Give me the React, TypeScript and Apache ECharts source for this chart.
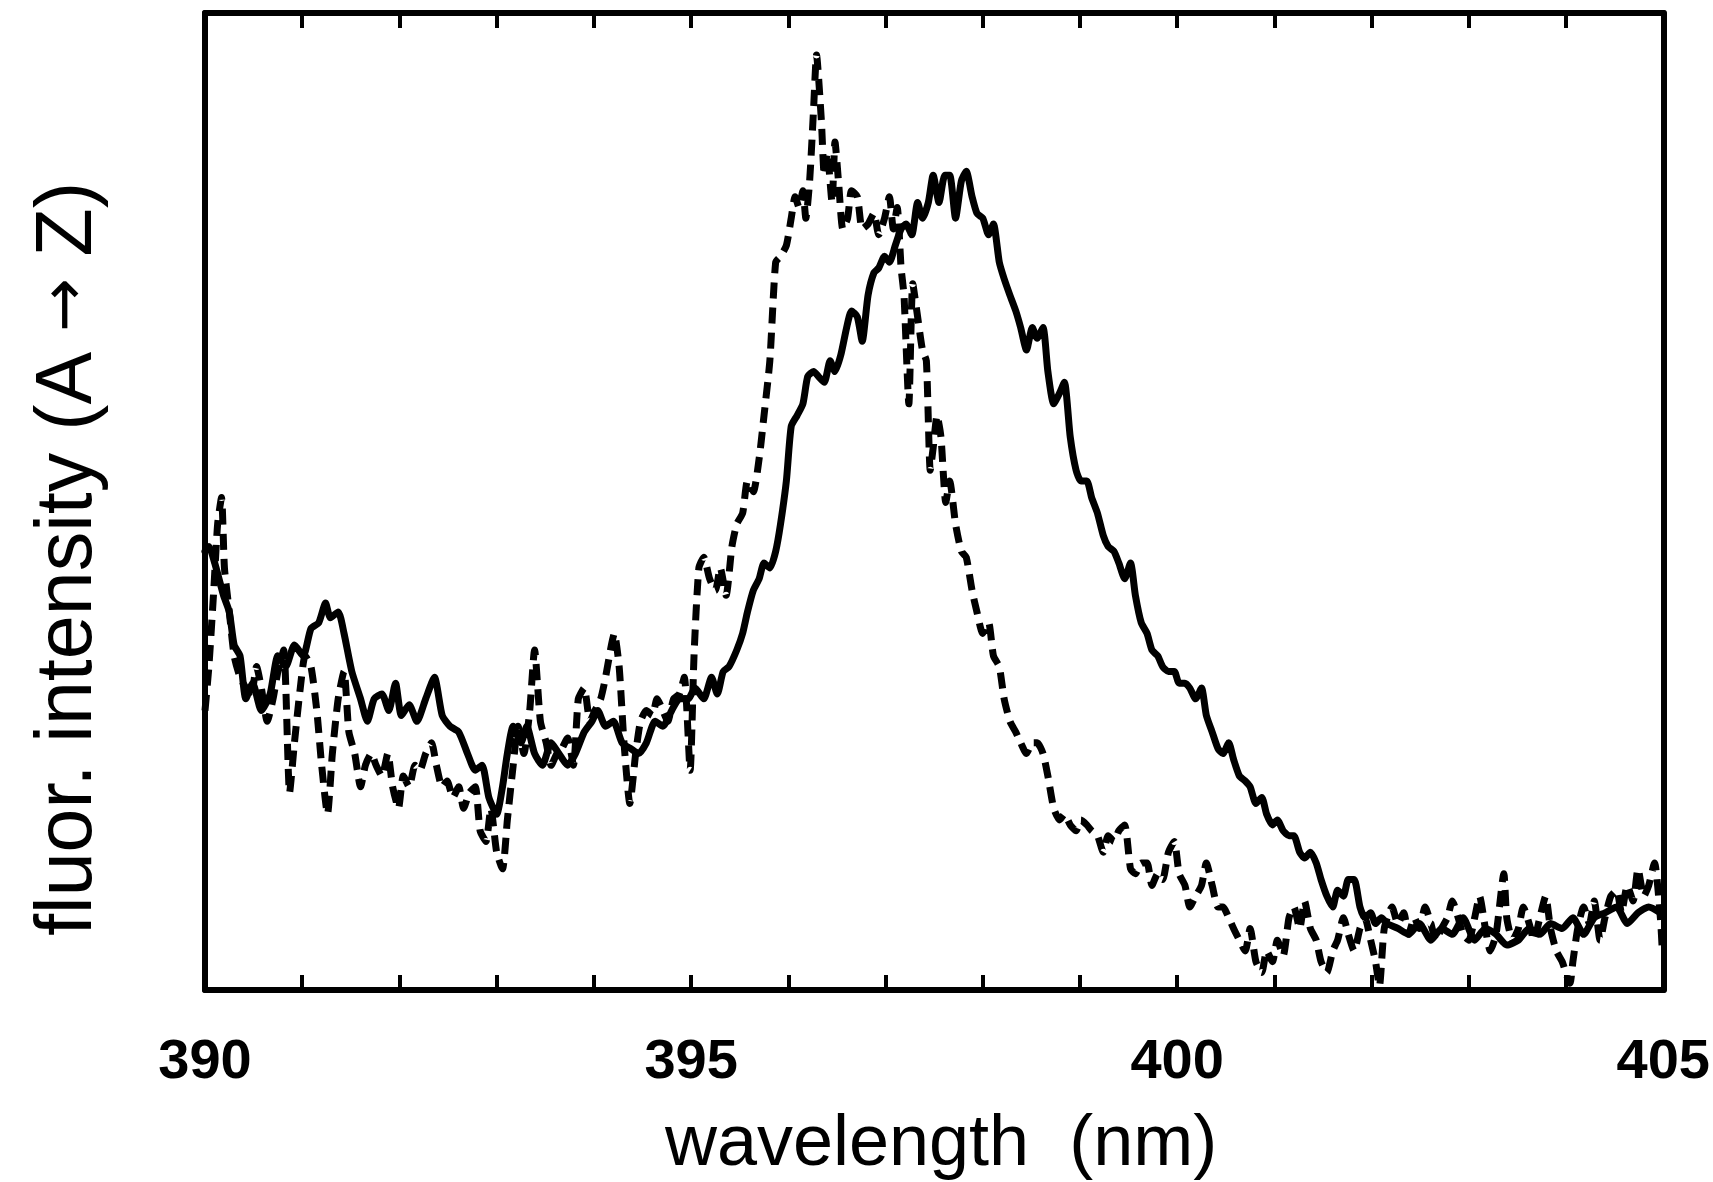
import React, { useEffect, useRef } from "react";
import * as echarts from "echarts";

// x tick labels (nm)
const xTickLabels = [390, 395, 400, 405];

// solid curve
const solidWavelength = [
  390.00, 390.04, 390.10, 390.19, 390.25, 390.30, 390.36, 390.42, 390.49, 390.58,
  390.67, 390.75, 390.83, 390.92, 391.01, 391.09, 391.17, 391.24, 391.29, 391.37,
  391.43, 391.51, 391.60, 391.67, 391.74, 391.82, 391.89, 391.96, 392.02, 392.10,
  392.18, 392.27, 392.36, 392.44, 392.52, 392.61, 392.70, 392.78, 392.85, 392.92,
  393.00, 393.06, 393.11, 393.17, 393.25, 393.31, 393.39, 393.47, 393.56, 393.64,
  393.73, 393.81, 393.90, 393.98, 394.04, 394.12, 394.20, 394.29, 394.38, 394.46,
  394.54, 394.63, 394.71, 394.80, 394.88, 394.97, 395.04, 395.13, 395.21, 395.27,
  395.33, 395.39, 395.47, 395.53, 395.58, 395.64, 395.70, 395.75, 395.81, 395.87,
  395.92, 395.98, 396.03, 396.09, 396.15, 396.20, 396.26, 396.31, 396.37, 396.43,
  396.48, 396.54, 396.60, 396.65, 396.71, 396.76, 396.82, 396.88, 396.93, 396.99,
  397.04, 397.10, 397.16, 397.21, 397.27, 397.33, 397.38, 397.44, 397.49, 397.55,
  397.61, 397.66, 397.72, 397.78, 397.83, 397.89, 397.94, 398.00, 398.06, 398.11,
  398.17, 398.22, 398.28, 398.34, 398.39, 398.45, 398.51, 398.56, 398.62, 398.67,
  398.73, 398.79, 398.84, 398.90, 398.96, 399.01, 399.07, 399.12, 399.18, 399.24,
  399.29, 399.35, 399.40, 399.46, 399.52, 399.57, 399.63, 399.69, 399.74, 399.80,
  399.85, 399.91, 399.97, 400.02, 400.08, 400.13, 400.19, 400.25, 400.30, 400.36,
  400.42, 400.47, 400.53, 400.58, 400.64, 400.70, 400.75, 400.81, 400.87, 400.92,
  400.98, 401.03, 401.09, 401.15, 401.20, 401.26, 401.31, 401.37, 401.43, 401.48,
  401.54, 401.60, 401.65, 401.71, 401.76, 401.82, 401.88, 401.93, 401.99, 402.04,
  402.10, 402.16, 402.27, 402.38, 402.49, 402.61, 402.72, 402.83, 402.94, 403.06,
  403.17, 403.28, 403.39, 403.51, 403.62, 403.73, 403.84, 403.96, 404.07, 404.18,
  404.29, 404.40, 404.52, 404.63, 404.74, 404.85, 404.97,
];
const solidIntensity = [
  44.9, 45.4, 43.7, 40.4, 38.7, 35.3, 34.2, 29.8, 31.4, 28.6,
  30.3, 34.2, 33.1, 35.3, 34.2, 37.0, 37.6, 39.6, 38.1, 38.7,
  36.5, 32.6, 29.8, 27.5, 29.8, 30.3, 28.6, 31.4, 28.1, 29.2,
  27.5, 29.8, 32.0, 28.1, 27.0, 26.4, 24.2, 22.5, 23.0, 19.7,
  18.0, 20.8, 24.2, 27.0, 25.3, 27.0, 24.2, 23.0, 25.3, 24.2,
  23.0, 24.2, 26.4, 27.5, 28.6, 27.0, 27.5, 25.3, 24.7, 24.2,
  25.3, 27.5, 27.0, 28.6, 29.8, 29.8, 30.9, 29.8, 32.0, 30.3,
  32.6, 33.1, 34.8, 36.5, 38.7, 40.9, 42.1, 43.7, 43.2, 44.9,
  47.7, 52.1, 57.7, 58.8, 60.0, 62.8, 63.3, 62.8, 62.2, 64.4,
  63.3, 65.0, 67.8, 69.5, 68.9, 66.4, 71.1, 73.4, 73.9, 75.1,
  74.5, 76.2, 77.9, 78.4, 77.3, 80.6, 79.0, 80.6, 83.4, 80.6,
  83.4, 83.4, 79.0, 82.8, 83.8, 81.2, 79.5, 79.0, 77.3, 78.4,
  74.5, 72.8, 71.1, 69.5, 67.8, 65.5, 67.8, 66.7, 67.8, 63.3,
  60.0, 61.1, 62.2, 56.6, 53.2, 52.1, 52.1, 50.4, 48.8, 46.5,
  45.4, 44.9, 43.7, 42.1, 43.7, 40.4, 37.6, 36.5, 34.8, 34.2,
  33.1, 32.6, 32.6, 31.4, 31.4, 30.9, 29.8, 30.9, 28.1, 26.4,
  24.7, 24.2, 25.3, 23.6, 21.9, 21.4, 20.8, 19.1, 19.7, 18.0,
  16.9, 17.4, 16.3, 15.8, 15.8, 14.1, 13.5, 14.1, 13.0, 11.3,
  9.6, 8.5, 10.2, 9.6, 11.3, 11.3, 8.5, 7.4, 7.9, 6.8,
  7.4, 6.8, 6.3, 5.7, 6.8, 5.1, 6.3, 5.7, 7.4, 5.1,
  6.3, 5.7, 4.6, 5.1, 6.3, 5.7, 6.8, 6.3, 7.4, 5.7,
  7.4, 7.9, 8.5, 6.8, 7.9, 8.5, 7.9,
];

// dashed curve
const dashedWavelength = [
  390.00, 390.04, 390.09, 390.13, 390.17, 390.20, 390.25, 390.30, 390.36, 390.42,
  390.47, 390.53, 390.58, 390.64, 390.70, 390.75, 390.81, 390.87, 390.92, 390.98,
  391.03, 391.09, 391.15, 391.20, 391.26, 391.31, 391.37, 391.43, 391.48, 391.54,
  391.60, 391.65, 391.71, 391.76, 391.82, 391.88, 391.93, 391.99, 392.04, 392.10,
  392.16, 392.21, 392.27, 392.33, 392.38, 392.44, 392.49, 392.55, 392.61, 392.66,
  392.72, 392.78, 392.83, 392.89, 392.94, 393.00, 393.06, 393.11, 393.17, 393.22,
  393.28, 393.34, 393.39, 393.45, 393.51, 393.56, 393.62, 393.67, 393.73, 393.79,
  393.84, 393.90, 393.96, 394.01, 394.07, 394.12, 394.18, 394.21, 394.26, 394.31,
  394.37, 394.43, 394.48, 394.54, 394.60, 394.65, 394.71, 394.76, 394.82, 394.88,
  394.93, 394.99, 395.03, 395.08, 395.13, 395.19, 395.25, 395.30, 395.36, 395.42,
  395.47, 395.53, 395.58, 395.64, 395.70, 395.75, 395.81, 395.87, 395.92, 395.98,
  396.03, 396.07, 396.11, 396.15, 396.18, 396.22, 396.26, 396.29, 396.34, 396.37,
  396.40, 396.45, 396.48, 396.52, 396.56, 396.61, 396.65, 396.71, 396.76, 396.82,
  396.88, 396.93, 396.99, 397.04, 397.08, 397.12, 397.16, 397.19, 397.24, 397.28,
  397.33, 397.38, 397.42, 397.46, 397.49, 397.53, 397.57, 397.62, 397.66, 397.72,
  397.78, 397.83, 397.89, 397.94, 398.00, 398.06, 398.11, 398.17, 398.22, 398.28,
  398.34, 398.39, 398.45, 398.51, 398.56, 398.62, 398.67, 398.73, 398.79, 398.84,
  398.90, 398.96, 399.01, 399.07, 399.12, 399.18, 399.24, 399.29, 399.35, 399.40,
  399.46, 399.52, 399.57, 399.63, 399.69, 399.74, 399.80, 399.85, 399.91, 399.97,
  400.02, 400.08, 400.13, 400.19, 400.25, 400.30, 400.36, 400.42, 400.47, 400.53,
  400.58, 400.64, 400.70, 400.75, 400.81, 400.87, 400.92, 400.98, 401.03, 401.09,
  401.15, 401.20, 401.26, 401.31, 401.37, 401.43, 401.48, 401.54, 401.60, 401.65,
  401.71, 401.76, 401.82, 401.88, 401.93, 401.99, 402.04, 402.08, 402.13, 402.21,
  402.27, 402.33, 402.38, 402.44, 402.49, 402.55, 402.61, 402.66, 402.72, 402.78,
  402.83, 402.89, 402.94, 403.00, 403.06, 403.11, 403.17, 403.22, 403.28, 403.36,
  403.39, 403.45, 403.51, 403.56, 403.62, 403.67, 403.73, 403.79, 403.84, 403.90,
  403.96, 404.04, 404.07, 404.12, 404.18, 404.24, 404.29, 404.35, 404.40, 404.46,
  404.52, 404.57, 404.63, 404.69, 404.74, 404.80, 404.85, 404.91, 404.97, 404.99,
];
const dashedIntensity = [
  28.6, 33.1, 40.9, 47.7, 50.4, 43.2, 38.7, 34.2, 32.0, 30.9,
  29.8, 33.1, 30.9, 27.5, 29.8, 32.6, 34.8, 20.2, 25.3, 30.9,
  34.2, 33.1, 28.6, 23.0, 18.0, 24.2, 29.8, 32.6, 26.4, 24.2,
  20.8, 23.0, 24.2, 23.0, 21.9, 24.2, 20.8, 18.6, 21.9, 20.8,
  23.0, 22.5, 24.2, 25.3, 23.0, 20.8, 21.4, 19.7, 20.8, 18.6,
  20.2, 20.8, 16.3, 15.2, 18.6, 14.1, 12.4, 17.4, 23.0, 27.0,
  24.2, 28.6, 34.8, 27.5, 25.3, 23.0, 24.2, 24.7, 25.8, 23.0,
  29.8, 30.9, 27.5, 28.6, 29.8, 32.0, 35.3, 36.5, 33.1, 25.3,
  19.1, 24.2, 27.5, 28.6, 28.1, 29.8, 28.6, 27.5, 29.8, 30.3,
  32.0, 22.5, 34.2, 43.2, 44.3, 42.1, 40.9, 43.2, 40.4, 45.4,
  47.7, 48.8, 52.1, 51.0, 54.4, 58.8, 64.4, 74.5, 75.1, 76.2,
  79.0, 81.2, 80.1, 81.8, 79.0, 82.9, 90.2, 95.7, 89.0, 83.4,
  85.7, 80.6, 86.8, 82.3, 77.9, 79.0, 81.8, 81.2, 77.9, 78.4,
  79.5, 77.3, 79.0, 81.2, 77.9, 80.1, 73.9, 71.1, 60.0, 72.3,
  68.9, 65.5, 64.4, 53.2, 55.5, 58.8, 56.6, 49.9, 52.1, 47.7,
  44.9, 44.3, 40.9, 38.7, 36.5, 37.6, 34.2, 33.1, 29.8, 27.5,
  26.4, 25.3, 24.2, 25.3, 25.3, 24.2, 21.9, 18.6, 17.4, 18.0,
  16.9, 16.3, 17.4, 16.9, 16.3, 15.8, 14.1, 15.8, 15.2, 16.3,
  16.9, 12.4, 11.9, 13.0, 13.0, 10.7, 11.9, 11.3, 14.1, 15.2,
  11.9, 10.7, 8.5, 9.6, 10.7, 13.0, 10.7, 8.5, 8.5, 7.4,
  6.3, 5.1, 4.0, 6.3, 2.9, 1.8, 4.0, 2.9, 5.1, 3.5,
  7.4, 8.5, 6.3, 9.1, 6.3, 5.1, 2.9, 1.8, 4.0, 5.1,
  7.4, 5.7, 4.0, 6.3, 7.4, 5.1, 2.9, 0.4, 6.3, 8.5,
  6.8, 7.9, 5.7, 7.4, 6.3, 8.5, 6.8, 5.1, 6.3, 7.4,
  9.1, 7.4, 5.7, 5.1, 7.4, 9.6, 6.3, 4.0, 5.7, 11.9,
  7.4, 5.1, 6.3, 8.5, 6.8, 5.1, 7.4, 9.6, 6.3, 4.0,
  2.9, 0.7, 2.9, 6.3, 8.5, 6.8, 9.1, 5.1, 7.4, 9.6,
  10.2, 7.9, 10.7, 9.1, 12.4, 9.6, 10.7, 13.0, 7.4, 4.0,
];

const xAxisTitle = "wavelength  (nm)";
const yAxisTitleParts = ["fluor. intensity (A ", "\u2192", " Z)"];

export default function App() {
  const ref = useRef<HTMLDivElement>(null);

  useEffect(() => {
    if (!ref.current) return;
    const chart = echarts.init(ref.current, null, { renderer: "svg" });

    const solidData = solidWavelength.map((w, i) => [w, solidIntensity[i]]);
    const dashedData = dashedWavelength.map((w, i) => [w, dashedIntensity[i]]);

    const axisLine = { show: true, onZero: false, lineStyle: { color: "#000", width: 6 } };
    const font = "Liberation Sans, Arial, sans-serif";
    const tick = { show: true, inside: true, length: 15, lineStyle: { color: "#000", width: 4 } };

    chart.setOption({
      animation: false,
      backgroundColor: "#fff",
      grid: { left: 205, right: 49, top: 13, bottom: 192, containLabel: false },
      xAxis: [
        {
          type: "value",
          min: 390,
          max: 405,
          interval: 1,
          position: "bottom",
          axisLine,
          axisTick: tick,
          axisLabel: {
            show: true,
            margin: 40,
            color: "#000",
            fontFamily: font,
            fontWeight: "bold",
            fontSize: 56,
            showMinLabel: true,
            showMaxLabel: true,
            formatter: (v: number) => (xTickLabels.indexOf(v) >= 0 ? String(v) : ""),
          },
          splitLine: { show: false },
        },
        {
          type: "value",
          min: 390,
          max: 405,
          interval: 1,
          position: "top",
          axisLine,
          axisTick: tick,
          axisLabel: { show: false },
          splitLine: { show: false },
        },
      ],
      yAxis: [
        {
          type: "value",
          min: 0,
          max: 100,
          position: "left",
          axisLine,
          axisTick: { show: false },
          axisLabel: { show: false },
          splitLine: { show: false },
        },
        {
          type: "value",
          min: 0,
          max: 100,
          position: "right",
          axisLine,
          axisTick: { show: false },
          axisLabel: { show: false },
          splitLine: { show: false },
        },
      ],
      graphic: [
        {
          type: "text",
          x: 941,
          y: 1140,
          style: {
            text: xAxisTitle,
            fill: "#000",
            font: "72px Liberation Sans, Arial, sans-serif",
            textAlign: "center",
            textVerticalAlign: "middle",
          },
        },
        {
          type: "text",
          x: 63,
          y: 560,
          rotation: Math.PI / 2,
          style: {
            text:
              "{a|" + yAxisTitleParts[0] + "}{b|" + yAxisTitleParts[1] + "}{a|" + yAxisTitleParts[2] + "}",
            rich: {
              a: { fontFamily: "Liberation Sans, Arial, sans-serif", fontSize: 79, fill: "#000", color: "#000" },
              b: { fontFamily: "DejaVu Sans, sans-serif", fontSize: 64, fill: "#000", color: "#000" },
            },
            textAlign: "center",
            textVerticalAlign: "middle",
          },
        },
      ],
      series: [
        {
          name: "solid",
          type: "line",
          xAxisIndex: 0,
          yAxisIndex: 0,
          data: solidData,
          showSymbol: false,
          smooth: 0.2,
          lineStyle: { color: "#000", width: 7, type: "solid", join: "round", cap: "round" },
        },
        {
          name: "dashed",
          type: "line",
          xAxisIndex: 0,
          yAxisIndex: 0,
          data: dashedData,
          showSymbol: false,
          smooth: 0.2,
          lineStyle: { color: "#000", width: 7, type: [16, 9], join: "round", cap: "butt" },
        },
      ],
    });

    return () => chart.dispose();
  }, []);

  return (
    <div
      ref={ref}
      style={{ position: "fixed", left: 0, top: 0, width: 1713, height: 1182, background: "#fff" }}
    />
  );
}
